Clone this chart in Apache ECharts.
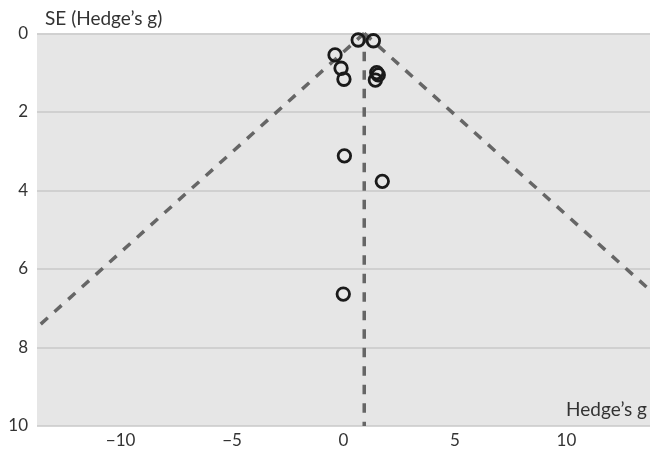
<!DOCTYPE html>
<html>
<head>
<meta charset="utf-8">
<script src="https://cdn.jsdelivr.net/npm/echarts@6/dist/echarts.min.js"></script>
<style>
html,body{margin:0;padding:0;background:#fff;}
#chart{width:650px;height:449px;}
</style>
</head>
<body>
<div id="chart"></div>
<script>
// Study effect sizes (Hedge's g) and their standard errors
const effectG = [0.66, 1.34, -0.38, -0.11, 0.02, 1.49, 1.56, 1.43, 0.04, 1.74, -0.01];
const seG     = [0.17, 0.19, 0.55, 0.89, 1.17, 1.00, 1.06, 1.19, 3.12, 3.77, 6.64];
// Pooled effect line and funnel limits (endpoints)
const pooledLine  = [[0.93, 0], [0.93, 10]];
const funnelLeft  = [[0.93, 0], [-13.75, 7.49]];
const funnelRight = [[0.93, 0], [13.75, 6.54]];
const xTicks = [-10, -5, 0, 5, 10];
const yTicks = [0, 2, 4, 6, 8, 10];
const xTitle = 'Hedge\u2019s g';
const yTitle = 'SE (Hedge\u2019s g)';

const points = effectG.map((g, i) => [g, seG[i]]);
const FONT = 'Lato';
const FS = 17;
const TFS = 19;
const dashStyle = {color: '#666666', width: 3.5, type: [9.5, 9]};

const chart = echarts.init(document.getElementById('chart'), null, {renderer: 'canvas'});
chart.setOption({
  animation: false,
  grid: {left: 37, right: 0, top: 33.3, bottom: 23, show: true, backgroundColor: '#e6e6e6', borderWidth: 0},
  graphic: [
    {type: 'text', left: 45, top: 9, z: 10,
     style: {text: yTitle, fontFamily: FONT, fontSize: TFS, fill: '#333'}},
    {type: 'text', right: 3, top: 400, z: 10,
     style: {text: xTitle, fontFamily: FONT, fontSize: TFS, fill: '#333'}}
  ],
  xAxis: {
    type: 'value', min: -13.75, max: 13.75,
    axisLine: {show: false}, axisTick: {show: false}, splitLine: {show: false},
    axisLabel: {customValues: xTicks, fontFamily: FONT, fontSize: FS, color: '#333', margin: 6,
      formatter: v => (v < 0 ? '\u2212' + Math.abs(v) : String(v))}
  },
  yAxis: {
    type: 'value', min: 0, max: 10, interval: 2, inverse: true,
    axisLine: {show: false}, axisTick: {show: false},
    splitLine: {show: true, lineStyle: {color: '#c9c9c9', width: 1.5}},
    axisLabel: {customValues: yTicks, fontFamily: FONT, fontSize: FS, color: '#333', margin: 9}
  },
  series: [
    {type: 'line', data: pooledLine, symbol: 'none', lineStyle: dashStyle, silent: true, z: 2},
    {type: 'line', data: funnelLeft, symbol: 'none', lineStyle: dashStyle, silent: true, z: 2},
    {type: 'line', data: funnelRight, symbol: 'none', lineStyle: dashStyle, silent: true, z: 2},
    {type: 'scatter', data: points, symbol: 'circle', symbolSize: 12.5,
     itemStyle: {color: 'rgba(0,0,0,0)', borderColor: '#1a1a1a', borderWidth: 2.8, opacity: 1}, z: 3}
  ]
});
</script>
</body>
</html>
